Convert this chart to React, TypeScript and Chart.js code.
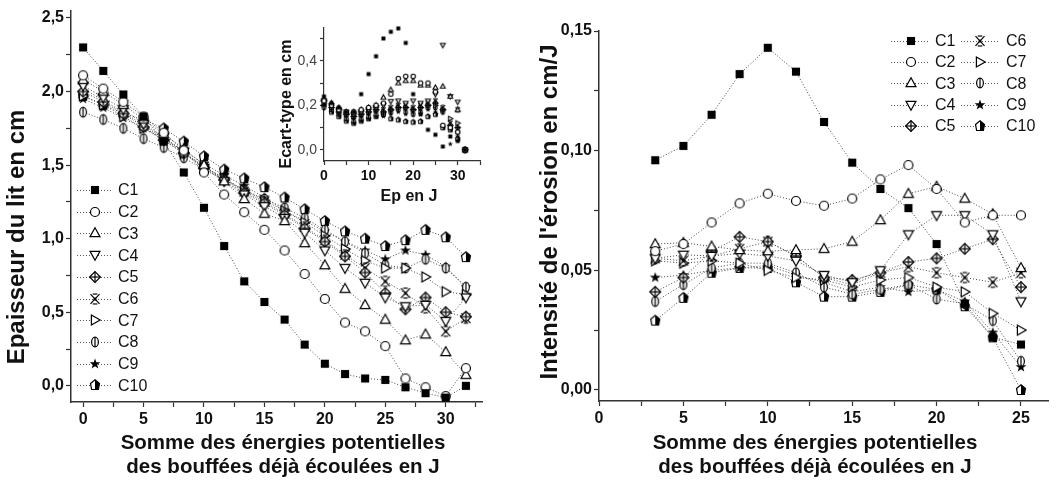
import React, { useEffect, useRef } from 'react';
import { Chart, registerables } from 'chart.js';

Chart.register(...registerables);
Chart.defaults.font.family = '"Liberation Sans", Arial, sans-serif';

// ---------------- DATA ----------------
const seriesNames = ['C1', 'C2', 'C3', 'C4', 'C5', 'C6', 'C7', 'C8', 'C9', 'C10'];

// Left panel: bed thickness (cm) vs cumulative potential energy (J)
const leftX = [0, 1.67, 3.33, 5, 6.67, 8.33, 10, 11.67, 13.33, 15, 16.67, 18.33, 20, 21.67, 23.33, 25, 26.67, 28.33, 30, 31.67];
const leftC1 = [2.30, 2.14, 1.98, 1.83, 1.66, 1.45, 1.21, 0.95, 0.71, 0.57, 0.45, 0.28, 0.15, 0.08, 0.05, 0.04, -0.01, -0.05, -0.08, 0.00];
const leftC2 = [2.11, 2.02, 1.93, 1.83, 1.72, 1.60, 1.45, 1.30, 1.18, 1.06, 0.92, 0.76, 0.59, 0.43, 0.37, 0.27, 0.05, -0.01, -0.07, 0.12];
const leftC3 = [2.08, 2.00, 1.91, 1.81, 1.71, 1.61, 1.50, 1.39, 1.27, 1.17, 1.12, 0.97, 0.82, 0.66, 0.55, 0.45, 0.31, 0.35, 0.23, 0.075];
const leftC4 = [2.04, 1.96, 1.88, 1.78, 1.69, 1.59, 1.48, 1.39, 1.30, 1.22, 1.14, 1.04, 0.92, 0.80, 0.70, 0.60, 0.54, 0.55, 0.44, 0.60];
const leftC5 = [2.00, 1.93, 1.85, 1.76, 1.67, 1.58, 1.48, 1.40, 1.31, 1.24, 1.16, 1.07, 0.98, 0.88, 0.77, 0.63, 0.52, 0.60, 0.50, 0.47];
const leftC6 = [2.02, 1.94, 1.86, 1.77, 1.68, 1.59, 1.49, 1.41, 1.32, 1.25, 1.17, 1.08, 0.99, 0.89, 0.80, 0.71, 0.63, 0.53, 0.37, 0.46];
const leftC7 = [1.97, 1.91, 1.83, 1.75, 1.67, 1.58, 1.49, 1.41, 1.33, 1.26, 1.19, 1.11, 1.02, 0.93, 0.85, 0.80, 0.80, 0.74, 0.64, 0.62];
const leftC8 = [1.86, 1.81, 1.75, 1.68, 1.62, 1.55, 1.47, 1.40, 1.33, 1.27, 1.21, 1.14, 1.06, 0.98, 0.90, 0.82, 0.80, 0.86, 0.80, 0.67];
const leftC9 = [1.95, 1.89, 1.82, 1.75, 1.68, 1.60, 1.51, 1.43, 1.36, 1.28, 1.19, 1.12, 1.05, 0.98, 0.92, 0.86, 0.92, 0.89, 0.81, 0.67];
const leftC10 = [1.97, 1.91, 1.85, 1.81, 1.75, 1.66, 1.56, 1.47, 1.41, 1.35, 1.28, 1.20, 1.12, 1.05, 1.00, 0.95, 0.99, 1.06, 1.01, 0.875];
const leftXTicks = [0, 2.5, 5, 7.5, 10, 12.5, 15, 17.5, 20, 22.5, 25, 27.5, 30, 32.5];
const leftYTicks = [0, 0.25, 0.5, 0.75, 1, 1.25, 1.5, 1.75, 2, 2.25, 2.5];

// Right panel: erosion intensity (cm/J)
const rightX = [3.33, 5, 6.67, 8.33, 10, 11.67, 13.33, 15, 16.67, 18.33, 20, 21.67, 23.33, 25];
const rightC1 = [0.096, 0.102, 0.115, 0.132, 0.143, 0.133, 0.112, 0.095, 0.084, 0.076, 0.061, 0.036, 0.022, 0.019];
const rightC2 = [0.058, 0.061, 0.070, 0.078, 0.082, 0.079, 0.077, 0.080, 0.088, 0.094, 0.084, 0.070, 0.073, 0.073];
const rightC3 = [0.061, 0.0615, 0.060, 0.0585, 0.058, 0.0585, 0.059, 0.062, 0.071, 0.082, 0.085, 0.080, 0.0735, 0.051];
const rightC4 = [0.055, 0.0565, 0.056, 0.057, 0.056, 0.054, 0.048, 0.045, 0.050, 0.065, 0.073, 0.073, 0.065, 0.037];
const rightC5 = [0.041, 0.047, 0.058, 0.064, 0.062, 0.056, 0.047, 0.046, 0.049, 0.0535, 0.055, 0.059, 0.063, 0.043];
const rightC6 = [0.055, 0.054, 0.056, 0.059, 0.062, 0.056, 0.047, 0.044, 0.049, 0.0515, 0.049, 0.047, 0.045, 0.049];
const rightC7 = [0.054, 0.053, 0.054, 0.053, 0.050, 0.047, 0.046, 0.043, 0.046, 0.047, 0.043, 0.041, 0.032, 0.025];
const rightC8 = [0.037, 0.044, 0.051, 0.053, 0.053, 0.049, 0.043, 0.040, 0.042, 0.044, 0.038, 0.036, 0.029, 0.012];
const rightC9 = [0.047, 0.048, 0.050, 0.051, 0.052, 0.048, 0.045, 0.041, 0.043, 0.041, 0.042, 0.037, 0.024, 0.0096];
const rightC10 = [0.029, 0.0385, 0.049, 0.051, 0.051, 0.045, 0.039, 0.039, 0.041, 0.044, 0.042, 0.035, 0.022, 0.000];
const rightXTicks = [0, 2.5, 5, 7.5, 10, 12.5, 15, 17.5, 20, 22.5, 25];
const rightYTicks = [0, 0.025, 0.05, 0.075, 0.1, 0.125, 0.15];

// Inset: standard deviation (cm) vs Ep (J)
const insetX = [0, 1.67, 3.33, 5, 6.67, 8.33, 10, 11.67, 13.33, 15, 16.67, 18.33, 20, 21.67, 23.33, 25, 26.67, 28.33, 30, 31.67];
const insetC1 = [0.24, 0.21, 0.19, 0.17, 0.17, 0.25, 0.34, 0.42, 0.50, 0.53, 0.545, 0.48, 0.25, 0.16, 0.09, 0.068, 0.015, 0.06, 0.04, 0.0];
const insetC2 = [0.22, 0.20, 0.18, 0.17, 0.17, 0.18, 0.19, 0.20, 0.21, 0.25, 0.32, 0.33, 0.33, 0.30, 0.30, 0.26, 0.11, 0.10, 0.08, 0.0];
const insetC3 = [0.23, 0.21, 0.19, 0.17, 0.17, 0.18, 0.19, 0.20, 0.236, 0.27, 0.30, 0.31, 0.31, 0.29, 0.29, 0.28, 0.285, 0.24, 0.18, 0.0];
const insetC4 = [0.22, 0.20, 0.18, 0.17, 0.16, 0.17, 0.18, 0.19, 0.20, 0.218, 0.22, 0.21, 0.22, 0.21, 0.22, 0.25, 0.47, 0.24, 0.215, 0.0];
const insetC5 = [0.22, 0.19, 0.17, 0.16, 0.15, 0.16, 0.17, 0.18, 0.17, 0.18, 0.19, 0.19, 0.18, 0.19, 0.20, 0.21, 0.18, 0.11, 0.10, 0.0];
const insetC6 = [0.21, 0.19, 0.17, 0.16, 0.15, 0.16, 0.17, 0.18, 0.18, 0.19, 0.20, 0.20, 0.19, 0.20, 0.21, 0.22, 0.19, 0.12, 0.18, 0.0];
const insetC7 = [0.21, 0.19, 0.18, 0.16, 0.15, 0.16, 0.17, 0.18, 0.17, 0.18, 0.19, 0.19, 0.18, 0.19, 0.20, 0.20, 0.18, 0.14, 0.12, 0.0];
const insetC8 = [0.19, 0.18, 0.16, 0.14, 0.13, 0.14, 0.15, 0.16, 0.16, 0.17, 0.18, 0.17, 0.16, 0.17, 0.19, 0.19, 0.17, 0.10, 0.08, 0.0];
const insetC9 = [0.20, 0.18, 0.16, 0.14, 0.12, 0.13, 0.14, 0.15, 0.15, 0.16, 0.17, 0.16, 0.16, 0.16, 0.18, 0.17, 0.11, 0.026, 0.06, 0.0];
const insetC10 = [0.20, 0.17, 0.15, 0.13, 0.12, 0.13, 0.14, 0.15, 0.16, 0.14, 0.135, 0.128, 0.125, 0.128, 0.15, 0.16, 0.10, 0.09, 0.05, 0.0];
const insetXTicks = [0, 5, 10, 15, 20, 25, 30, 35];
const insetYTicks = [0, 0.1, 0.2, 0.3, 0.4, 0.5];

const leftSeries = [leftC1, leftC2, leftC3, leftC4, leftC5, leftC6, leftC7, leftC8, leftC9, leftC10];
const rightSeries = [rightC1, rightC2, rightC3, rightC4, rightC5, rightC6, rightC7, rightC8, rightC9, rightC10];
const insetSeries = [insetC1, insetC2, insetC3, insetC4, insetC5, insetC6, insetC7, insetC8, insetC9, insetC10];

const markerKinds = ['square', 'circle', 'triUp', 'triDown', 'diamondPlus', 'xcross', 'triRight', 'ellipseBar', 'star', 'halfPent'];

// ---------------- MARKERS ----------------
function makeMarker(kind: string, r: number, lw: number): HTMLCanvasElement {
  const size = Math.ceil(r * 3 + 4);
  const cv = document.createElement('canvas');
  cv.width = size;
  cv.height = size;
  const ctx = cv.getContext('2d') as CanvasRenderingContext2D;
  const c = size / 2;
  ctx.lineWidth = lw;
  ctx.strokeStyle = '#000';
  ctx.fillStyle = '#fff';
  const poly = (pts: number[][]) => {
    ctx.beginPath();
    pts.forEach(([x, y], i) => (i ? ctx.lineTo(c + x, c + y) : ctx.moveTo(c + x, c + y)));
    ctx.closePath();
  };
  const line = (x1: number, y1: number, x2: number, y2: number) => {
    ctx.beginPath();
    ctx.moveTo(c + x1, c + y1);
    ctx.lineTo(c + x2, c + y2);
    ctx.stroke();
  };
  switch (kind) {
    case 'square':
      ctx.fillStyle = '#000';
      ctx.fillRect(c - r * 0.9, c - r * 0.9, r * 1.8, r * 1.8);
      break;
    case 'circle':
      ctx.beginPath();
      ctx.arc(c, c, r, 0, Math.PI * 2);
      ctx.fill();
      ctx.stroke();
      break;
    case 'triUp':
      poly([[0, -r * 1.15], [r * 1.1, r * 0.8], [-r * 1.1, r * 0.8]]);
      ctx.fill();
      ctx.stroke();
      break;
    case 'triDown':
      poly([[0, r * 1.15], [r * 1.1, -r * 0.8], [-r * 1.1, -r * 0.8]]);
      ctx.fill();
      ctx.stroke();
      break;
    case 'diamondPlus':
      poly([[0, -r * 1.2], [r * 1.2, 0], [0, r * 1.2], [-r * 1.2, 0]]);
      ctx.fill();
      ctx.stroke();
      line(0, -r * 1.2, 0, r * 1.2);
      line(-r * 1.2, 0, r * 1.2, 0);
      break;
    case 'xcross':
      line(-r, -r * 1.1, r, r * 1.1);
      line(-r, r * 1.1, r, -r * 1.1);
      line(-r * 0.5, -r * 1.1, r * 0.5, -r * 1.1);
      line(-r * 0.5, r * 1.1, r * 0.5, r * 1.1);
      ctx.fillStyle = '#000';
      ctx.beginPath();
      ctx.arc(c, c, r * 0.35, 0, Math.PI * 2);
      ctx.fill();
      break;
    case 'triRight':
      poly([[r * 1.15, 0], [-r * 0.8, -r * 1.1], [-r * 0.8, r * 1.1]]);
      ctx.fill();
      ctx.stroke();
      break;
    case 'ellipseBar':
      ctx.beginPath();
      ctx.ellipse(c, c, r * 0.75, r * 1.1, 0, 0, Math.PI * 2);
      ctx.fill();
      ctx.stroke();
      line(0, -r * 1.1, 0, r * 1.1);
      break;
    case 'star': {
      const pts: number[][] = [];
      for (let k = 0; k < 10; k++) {
        const rr = k % 2 === 0 ? r * 1.25 : r * 0.5;
        const a = -Math.PI / 2 + (k * Math.PI) / 5;
        pts.push([rr * Math.cos(a), rr * Math.sin(a)]);
      }
      poly(pts);
      ctx.fillStyle = '#000';
      ctx.fill();
      break;
    }
    case 'halfPent': {
      const pts = [[0, -r * 1.15], [r, -r * 0.35], [r * 0.75, r], [-r * 0.75, r], [-r, -r * 0.35]];
      poly(pts);
      ctx.fill();
      ctx.save();
      ctx.beginPath();
      ctx.rect(c, 0, size, size);
      ctx.clip();
      poly(pts);
      ctx.fillStyle = '#000';
      ctx.fill();
      ctx.restore();
      poly(pts);
      ctx.stroke();
      break;
    }
  }
  return cv;
}

// ---------------- DECORATION PLUGIN ----------------
type TextItem = { text: string; x: number; y: number; font: string; rot?: number; align?: CanvasTextAlign; color?: string };
type LegendItem = { label: string; marker: HTMLCanvasElement; x1: number; x2: number; mx: number; tx: number; y: number };

function decoPlugin(texts: TextItem[], legend: LegendItem[]) {
  return {
    id: 'deco',
    afterDraw(chart: any) {
      const ctx: CanvasRenderingContext2D = chart.ctx;
      ctx.save();
      for (const t of texts) {
        ctx.save();
        ctx.translate(t.x, t.y);
        if (t.rot) ctx.rotate(t.rot);
        ctx.font = t.font;
        ctx.fillStyle = t.color || '#111';
        ctx.textAlign = t.align || 'center';
        ctx.textBaseline = 'middle';
        ctx.fillText(t.text, 0, 0);
        ctx.restore();
      }
      for (const l of legend) {
        ctx.save();
        ctx.setLineDash([1, 2]);
        ctx.strokeStyle = '#555';
        ctx.lineWidth = 1;
        ctx.beginPath();
        ctx.moveTo(l.x1, Math.round(l.y) + 0.5);
        ctx.lineTo(l.x2, Math.round(l.y) + 0.5);
        ctx.stroke();
        ctx.restore();
        ctx.drawImage(l.marker, Math.round(l.mx - l.marker.width / 2), Math.round(l.y - l.marker.height / 2));
        ctx.font = '16px "Liberation Sans", Arial, sans-serif';
        ctx.fillStyle = '#111';
        ctx.textAlign = 'left';
        ctx.textBaseline = 'middle';
        ctx.fillText(l.label, l.tx, l.y + 1);
      }
      ctx.restore();
    },
  };
}

const isMult = (v: number, step: number) => Math.abs(v / step - Math.round(v / step)) < 1e-6;

function axis(opts: {
  min: number; max: number; ticks: number[]; size: number; horizontal: boolean;
  label: (v: number) => string; font: any; color?: string; tickLen?: number; bw?: number; pad?: number;
}) {
  return {
    type: 'linear',
    min: opts.min,
    max: opts.max,
    afterBuildTicks: (s: any) => {
      s.ticks = opts.ticks.map((v) => ({ value: v }));
    },
    afterFit: (s: any) => {
      if (opts.horizontal) s.height = opts.size;
      else s.width = opts.size;
      s.paddingLeft = 0;
      s.paddingRight = 0;
      s.paddingTop = 0;
      s.paddingBottom = 0;
    },
    ticks: {
      autoSkip: false,
      maxRotation: 0,
      minRotation: 0,
      padding: opts.pad ?? 3,
      font: opts.font,
      color: opts.color || '#111',
      callback: (v: any) => opts.label(Number(v)),
    },
    grid: {
      display: true,
      drawOnChartArea: false,
      drawTicks: true,
      tickLength: opts.tickLen ?? 5,
      tickWidth: 1.2,
      tickColor: '#333',
    },
    border: { display: true, color: '#333', width: opts.bw ?? 1.5 },
  };
}

export default function App() {
  const leftRef = useRef<HTMLCanvasElement>(null);
  const rightRef = useRef<HTMLCanvasElement>(null);
  const insetRef = useRef<HTMLCanvasElement>(null);

  useEffect(() => {
    const charts: Chart[] = [];
    const bigMarkers = markerKinds.map((k) => makeMarker(k, 4.5, 1.2));
    const smallMarkers = markerKinds.map((k) => makeMarker(k, 2.2, 1.1));
    const titleFont = 'bold 20.5px "Liberation Sans", Arial, sans-serif';
    const yTitleFont = 'bold 24px "Liberation Sans", Arial, sans-serif';
    const tickFont = { size: 16, weight: 'bold' as const };

    const lineDs = (xs: number[], ys: number[], i: number) => ({
      label: seriesNames[i],
      data: xs.map((x, j) => ({ x, y: ys[j] })),
      showLine: true,
      borderColor: '#444',
      borderWidth: 1,
      borderDash: [1, 2],
      pointStyle: bigMarkers[i],
      pointRadius: 5,
      pointHoverRadius: 5,
      clip: false,
      tension: 0,
    });

    // LEFT
    const leftLegend: LegendItem[] = seriesNames.map((n, i) => ({
      label: n, marker: bigMarkers[i], x1: 77, x2: 113, mx: 95, tx: 118, y: 190 + i * 21.7,
    }));
    const leftTexts: TextItem[] = [
      { text: 'Epaisseur du lit en cm', x: 17, y: 237, font: yTitleFont, rot: -Math.PI / 2 },
      { text: 'Somme des énergies potentielles', x: 283, y: 443, font: titleFont },
      { text: 'des bouffées déjà écoulées en J', x: 283, y: 467, font: titleFont },
    ];
    if (leftRef.current) {
      charts.push(new Chart(leftRef.current, {
        type: 'scatter',
        data: { datasets: leftSeries.map((s, i) => lineDs(leftX, s, i)) as any },
        options: {
          responsive: false,
          animation: false,
          events: [],
          layout: { padding: { left: 0, top: 10.6, right: 48, bottom: 0 } },
          plugins: { legend: { display: false }, tooltip: { enabled: false } },
          scales: {
            x: axis({ min: -1, max: 33, ticks: leftXTicks, size: 83, horizontal: true, label: (v) => (isMult(v, 5) ? String(v) : ''), font: tickFont }) as any,
            y: axis({ min: -0.11, max: 2.55, ticks: leftYTicks, size: 71, horizontal: false, label: (v) => (isMult(v, 0.5) ? v.toFixed(1).replace('.', ',') : ''), font: tickFont, pad: 2 }) as any,
          },
        },
        plugins: [decoPlugin(leftTexts, leftLegend)],
      }));
    }

    // RIGHT
    const off = 530;
    const rightLegend: LegendItem[] = seriesNames.map((n, i) => {
      const col = i < 5 ? 0 : 1;
      const row = i % 5;
      return col === 0
        ? { label: n, marker: bigMarkers[i], x1: 891 - off, x2: 928 - off, mx: 911 - off, tx: 935 - off, y: 40.7 + row * 21.3 }
        : { label: n, marker: bigMarkers[i], x1: 961 - off, x2: 1000 - off, mx: 980 - off, tx: 1006 - off, y: 40.7 + row * 21.3 };
    });
    const rightTexts: TextItem[] = [
      { text: "Intensité de l'érosion en cm/J", x: 550 - off, y: 212, font: yTitleFont, rot: -Math.PI / 2 },
      { text: 'Somme des énergies potentielles', x: 815 - off, y: 443, font: titleFont },
      { text: 'des bouffées déjà écoulées en J', x: 815 - off, y: 467, font: titleFont },
    ];
    if (rightRef.current) {
      charts.push(new Chart(rightRef.current, {
        type: 'scatter',
        data: { datasets: rightSeries.map((s, i) => lineDs(rightX, s, i)) as any },
        options: {
          responsive: false,
          animation: false,
          events: [],
          layout: { padding: { left: 0, top: 31, right: 10, bottom: 0 } },
          plugins: { legend: { display: false }, tooltip: { enabled: false } },
          scales: {
            x: axis({ min: 0, max: 26.6, ticks: rightXTicks, size: 84, horizontal: true, label: (v) => (isMult(v, 5) ? String(v) : ''), font: tickFont }) as any,
            y: axis({ min: -0.0046, max: 0.15, ticks: rightYTicks, size: 69, horizontal: false, label: (v) => (isMult(v, 0.05) ? v.toFixed(2).replace('.', ',') : ''), font: tickFont, pad: 2 }) as any,
          },
        },
        plugins: [decoPlugin(rightTexts, rightLegend)],
      }));
    }

    // INSET
    const ioX = 268;
    const ioY = 12;
    const insetTexts: TextItem[] = [
      { text: 'Ecart-type en cm', x: 287 - ioX, y: 104 - ioY, font: 'bold 16px "Liberation Sans", Arial, sans-serif', rot: -Math.PI / 2 },
      { text: 'Ep en J', x: 409 - ioX, y: 197 - ioY, font: 'bold 16px "Liberation Sans", Arial, sans-serif' },
    ];
    if (insetRef.current) {
      charts.push(new Chart(insetRef.current, {
        type: 'scatter',
        data: {
          datasets: insetSeries.map((s, i) => ({
            label: seriesNames[i],
            data: insetX.map((x, j) => ({ x, y: s[j] })),
            showLine: false,
            pointStyle: smallMarkers[i],
            pointRadius: 2.5,
            pointHoverRadius: 2.5,
            clip: false,
          })) as any,
        },
        options: {
          responsive: false,
          animation: false,
          events: [],
          layout: { padding: { left: 0, top: 15.3, right: 8, bottom: 0 } },
          plugins: { legend: { display: false }, tooltip: { enabled: false } },
          scales: {
            x: axis({ min: 0, max: 35, ticks: insetXTicks, size: 51, horizontal: true, label: (v) => (isMult(v, 10) ? String(v) : ''), font: { size: 14, weight: 'bold' }, tickLen: 4, bw: 1.2 }) as any,
            y: axis({ min: -0.05, max: 0.55, ticks: insetYTicks, size: 56, horizontal: false, label: (v) => (isMult(v, 0.2) ? v.toFixed(1).replace('.', ',') : ''), font: { size: 14 }, color: '#444', tickLen: 4, bw: 1.2 }) as any,
          },
        },
        plugins: [decoPlugin(insetTexts, [])],
      }));
    }

    return () => charts.forEach((c) => c.destroy());
  }, []);

  return (
    <div style={{ position: 'fixed', left: 0, top: 0, width: 1058, height: 485, background: '#fff' }}>
      <canvas ref={leftRef} width={530} height={485} style={{ position: 'absolute', left: 0, top: 0, width: 530, height: 485 }} />
      <canvas ref={rightRef} width={528} height={485} style={{ position: 'absolute', left: 530, top: 0, width: 528, height: 485 }} />
      <canvas ref={insetRef} width={220} height={200} style={{ position: 'absolute', left: 268, top: 12, width: 220, height: 200 }} />
    </div>
  );
}
